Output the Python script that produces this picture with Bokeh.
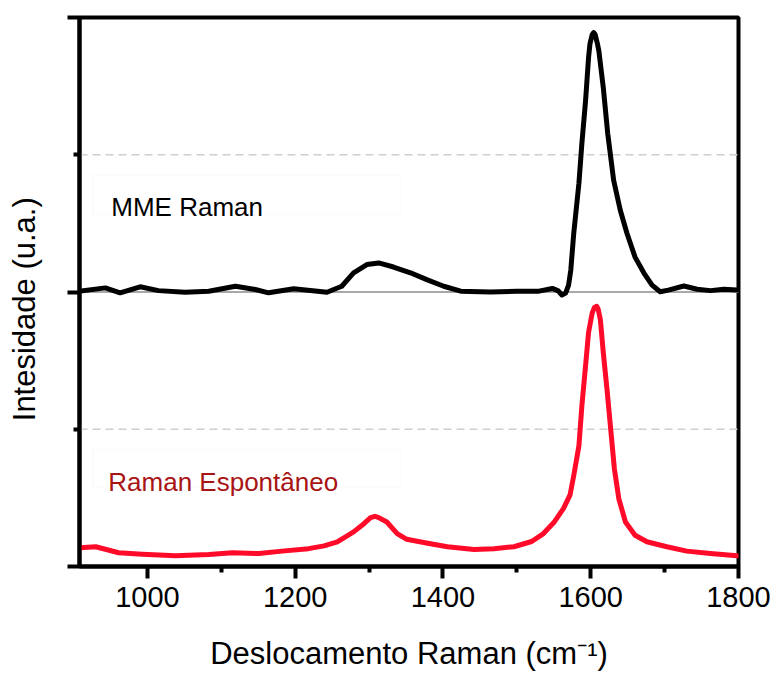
from bokeh.plotting import figure
from bokeh.models import Range1d, FixedTicker, Span, Label, BoxAnnotation
from bokeh.embed import file_html
from bokeh.resources import INLINE

# ---- data ----
mme_x = [907, 943, 963, 990, 1015, 1051, 1083, 1119, 1146, 1164, 1198, 1243, 1263, 1279,
         1297, 1313, 1333, 1356, 1378, 1401, 1424, 1464, 1500, 1530, 1548, 1556, 1561, 1566,
         1570, 1573, 1577, 1584, 1588, 1593, 1597, 1599, 1602, 1604, 1606, 1609, 1611, 1617,
         1623, 1631, 1640, 1649, 1660, 1672, 1683, 1694, 1705, 1726, 1744, 1762, 1780, 1798]
mme_y = [0.003, 0.015, -0.003, 0.019, 0.005, -0.001, 0.003, 0.021, 0.009, -0.003, 0.012, -0.001,
         0.021, 0.070, 0.100, 0.106, 0.091, 0.070, 0.045, 0.021, 0.003, 0.000, 0.003, 0.003,
         0.013, 0.004, -0.011, -0.004, 0.025, 0.080, 0.214, 0.396, 0.541, 0.697, 0.853, 0.905,
         0.938, 0.945, 0.938, 0.905, 0.878, 0.744, 0.577, 0.407, 0.298, 0.214, 0.127, 0.069,
         0.025, 0.001, 0.007, 0.022, 0.010, 0.005, 0.010, 0.007]

spont_x = [909, 930, 943, 961, 993, 1038, 1083, 1115, 1151, 1182, 1218, 1239, 1257, 1279, 1293,
           1302, 1308, 1313, 1324, 1338, 1351, 1365, 1383, 1406, 1442, 1469, 1496, 1520, 1536,
           1550, 1563, 1572, 1577, 1584, 1588, 1593, 1597, 1602, 1605, 1608, 1610, 1613, 1617,
           1622, 1627, 1632, 1638, 1647, 1660, 1676, 1703, 1730, 1762, 1798]
spont_y = [0.068, 0.072, 0.063, 0.050, 0.045, 0.039, 0.044, 0.050, 0.047, 0.056, 0.065, 0.075,
           0.090, 0.126, 0.156, 0.178, 0.183, 0.178, 0.162, 0.120, 0.099, 0.092, 0.083, 0.072,
           0.062, 0.065, 0.072, 0.091, 0.120, 0.160, 0.211, 0.261, 0.331, 0.440, 0.585, 0.731,
           0.852, 0.924, 0.944, 0.948, 0.938, 0.900, 0.779, 0.646, 0.501, 0.356, 0.247, 0.162,
           0.114, 0.090, 0.072, 0.056, 0.047, 0.039]

x_ticks = [1000, 1200, 1400, 1600, 1800]
x_minor = [1100, 1300, 1500, 1700]
tick_labels = ["1000", "1200", "1400", "1600", "1800"]
series_names = ["MME Raman", "Raman Espontâneo"]
y_title = "Intesidade (u.a.)"
x_title = "Deslocamento Raman (cm\u207b\u00b9)"
mme_offset = 1.0  # upper panel stacked above the lower one

FONT = "Liberation Sans"

p = figure(width=774, height=673, output_backend="svg", toolbar_location=None,
           x_range=Range1d(908, 1800), y_range=Range1d(0, 2),
           min_border_left=79, min_border_right=36, min_border_top=17, min_border_bottom=105)
p.background_fill_color = "white"
p.border_fill_color = "white"
p.grid.visible = False
p.outline_line_color = "black"
p.outline_line_width = 4

# reference lines
p.add_layout(Span(location=0.5, dimension="width", line_color="#d0d0d0", line_width=1.5,
                  line_dash="8 5", level="underlay"))
p.add_layout(Span(location=1.5, dimension="width", line_color="#d0d0d0", line_width=1.5,
                  line_dash="8 5", level="underlay"))
p.add_layout(Span(location=mme_offset, dimension="width", line_color="#a8a8a8", line_width=2,
                  level="underlay"))

# curves
p.line(mme_x, [v + mme_offset for v in mme_y], line_color="black", line_width=5,
       line_join="round", line_cap="round")
p.line(spont_x, spont_y, line_color="#ff0a28", line_width=5, line_join="round",
       line_cap="round")

# label boxes and texts
p.add_layout(BoxAnnotation(left=926, right=1342, bottom=1.281, top=1.4265, fill_alpha=0,
                           line_color="#efefef", line_width=1))
p.add_layout(BoxAnnotation(left=926, right=1342, bottom=0.290, top=0.428, fill_alpha=0,
                           line_color="#efefef", line_width=1))
p.add_layout(Label(x=951, y=1.31, text=series_names[0], text_font=FONT, text_font_size="26px",
                   text_color="black", text_baseline="alphabetic"))
p.add_layout(Label(x=947, y=0.3085, text=series_names[1], text_font=FONT, text_font_size="26px",
                   text_color="#a81414", text_baseline="alphabetic"))

# x axis
xa = p.xaxis[0]
xa.ticker = FixedTicker(ticks=x_ticks, minor_ticks=x_minor)
xa.major_label_overrides = {t: l for t, l in zip(x_ticks, tick_labels)}
xa.axis_label = x_title
xa.axis_line_width = 4
xa.major_tick_line_width = 4
xa.minor_tick_line_width = 4
xa.major_tick_out = 12
xa.major_tick_in = 0
xa.minor_tick_out = 6
xa.minor_tick_in = 0
xa.major_label_text_font = FONT
xa.major_label_text_font_size = "29px"
xa.major_label_text_color = "black"
xa.major_label_standoff = 8
xa.axis_label_text_font = FONT
xa.axis_label_text_font_size = "31px"
xa.axis_label_text_color = "black"
xa.axis_label_text_font_style = "normal"
xa.axis_label_standoff = 26

# y axis
ya = p.yaxis[0]
ya.ticker = FixedTicker(ticks=[0, 1, 2], minor_ticks=[0.5, 1.5])
ya.major_label_overrides = {0: "", 1: "", 2: ""}
# trailing no-break spaces push the visible title slightly below the frame centre
ya.axis_label = y_title + "\u00a0" * 4
ya.axis_line_width = 4
ya.major_tick_line_width = 4
ya.minor_tick_line_width = 4
ya.major_tick_out = 12
ya.major_tick_in = 0
ya.minor_tick_out = 6
ya.minor_tick_in = 0
ya.major_label_standoff = 0
ya.axis_label_text_font = FONT
ya.axis_label_text_font_size = "31px"
ya.axis_label_text_color = "black"
ya.axis_label_text_font_style = "normal"
ya.axis_label_standoff = 26

open("out.html", "w").write(file_html(p, INLINE))
